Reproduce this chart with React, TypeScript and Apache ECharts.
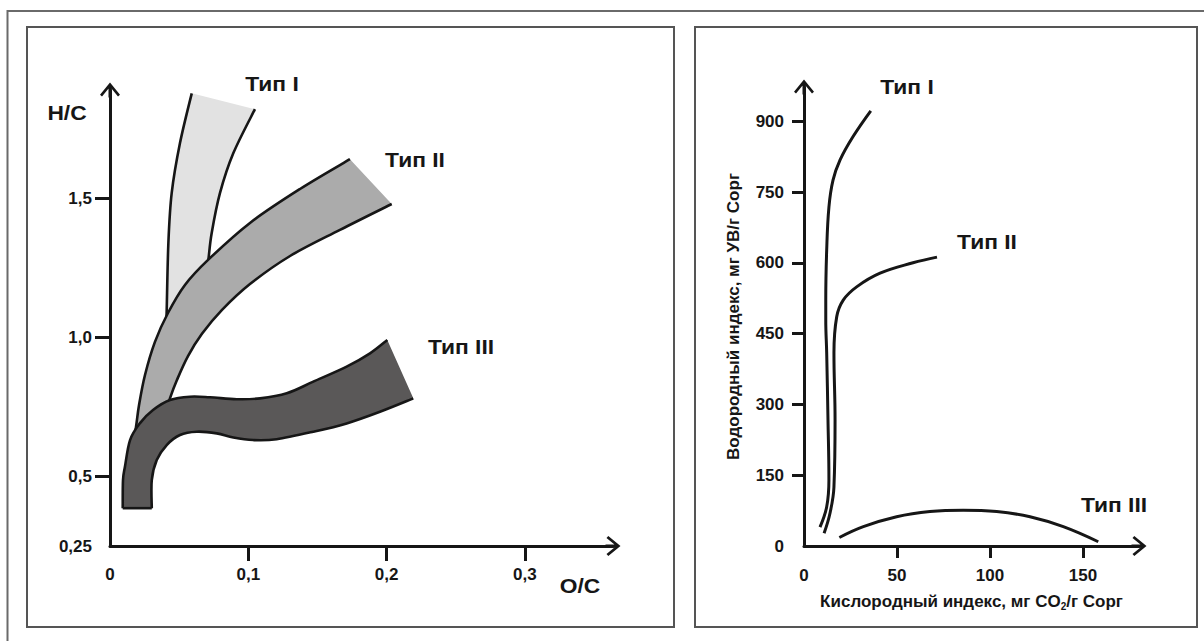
import React, { useEffect, useRef } from 'react';
import * as echarts from 'echarts';

// ---------------- Left panel: van Krevelen diagram (H/C vs O/C) ----------------
const vkXLabelValues = [0, 0.1, 0.2, 0.3];
const vkXLabelTexts = ['0', '0,1', '0,2', '0,3'];
const vkXTickValues = [0.1, 0.2, 0.3];
const vkYLabelValues = [0.25, 0.5, 1.0, 1.5];
const vkYLabelTexts = ['0,25', '0,5', '1,0', '1,5'];
const vkYTickValues = [0.5, 1.0, 1.5];

// Band outlines, points as [O/C, H/C]
const type1Left = [[0.0591, 1.878], [0.0506, 1.699], [0.0446, 1.519], [0.0422, 1.339], [0.041, 1.099], [0.0407, 1.056]];
const type1Right = [[0.1048, 1.821], [0.0892, 1.663], [0.0795, 1.519], [0.0735, 1.375], [0.0711, 1.279], [0.0694, 1.236]];

const type2Upper = [[0.1735, 1.641], [0.1374, 1.534], [0.1012, 1.412], [0.0709, 1.279], [0.0542, 1.189], [0.0419, 1.088], [0.0325, 0.984], [0.0253, 0.865], [0.021, 0.757], [0.0188, 0.678], [0.0166, 0.613]];
const type2Lower = [[0.2037, 1.48], [0.1663, 1.387], [0.1302, 1.293], [0.1012, 1.192], [0.081, 1.099], [0.0665, 1.013], [0.0564, 0.933], [0.0484, 0.847], [0.0434, 0.782], [0.0405, 0.732]];

const type3Upper = [[0.0092, 0.386], [0.0094, 0.487], [0.0108, 0.535], [0.0145, 0.631], [0.0217, 0.692], [0.0311, 0.739], [0.0434, 0.775], [0.0578, 0.787], [0.0723, 0.785], [0.0916, 0.778], [0.1085, 0.781], [0.1278, 0.799], [0.147, 0.841], [0.1711, 0.895], [0.188, 0.943], [0.2005, 0.991]];
const type3Lower = [[0.0302, 0.386], [0.0302, 0.487], [0.0338, 0.559], [0.041, 0.613], [0.0506, 0.649], [0.0627, 0.661], [0.0772, 0.655], [0.0892, 0.64], [0.1036, 0.631], [0.1205, 0.634], [0.147, 0.661], [0.1711, 0.691], [0.1952, 0.733], [0.2193, 0.781]];

// ---------------- Right panel: HI vs OI (Rock-Eval) ----------------
const hiXLabelValues = [0, 50, 100, 150];
const hiXTickValues = [50, 100, 150];
const hiYLabelValues = [0, 150, 300, 450, 600, 750, 900];
const hiYTickValues = [150, 300, 450, 600, 750, 900];

const hiType1 = [[8.6, 40], [12.2, 83], [13.4, 140], [12.9, 267], [12.2, 409], [11.7, 479], [11.7, 521], [12.2, 627], [13.4, 718], [15.6, 775], [19.4, 818], [26.3, 867], [35.9, 922]];
const hiType2 = [[10.8, 27], [14.0, 70], [16.1, 125], [16.7, 267], [16.1, 409], [17.6, 486], [21.1, 521], [28.3, 549], [40.9, 578], [58.6, 600], [71.5, 612]];
const hiType3 = [[19.0, 18], [31.9, 41], [49.8, 62], [67.7, 73], [85.6, 76], [103.6, 73], [121.5, 62], [139.4, 41], [158.2, 9]];

const FONT = "'Liberation Sans', Arial, Helvetica, sans-serif";
const INK = '#161616';
const ARROW = 'path://M10,0 L20,12.2 L18,14 L10,4.2 L2,14 L0,12.2 Z M8.5,2 L11.5,2 L11.5,15 L8.5,15 Z';

function smoothPath(pts: number[][], move: boolean): string {
  let d = (move ? 'M' : 'L') + pts[0][0] + ',' + pts[0][1];
  for (let i = 0; i < pts.length - 1; i++) {
    const p0 = pts[i - 1] || pts[i];
    const p1 = pts[i];
    const p2 = pts[i + 1];
    const p3 = pts[i + 2] || p2;
    const c1x = p1[0] + (p2[0] - p0[0]) / 6;
    const c1y = p1[1] + (p2[1] - p0[1]) / 6;
    const c2x = p2[0] - (p3[0] - p1[0]) / 6;
    const c2y = p2[1] - (p3[1] - p1[1]) / 6;
    d += ' C' + c1x + ',' + c1y + ' ' + c2x + ',' + c2y + ' ' + p2[0] + ',' + p2[1];
  }
  return d;
}

function bandSeries(name: string, sideA: number[][], sideB: number[][], fill: string, z: number, closeStart: boolean) {
  return {
    type: 'custom',
    name,
    xAxisIndex: 0,
    yAxisIndex: 0,
    z,
    silent: true,
    data: sideA.concat(sideB),
    encode: { x: 0, y: 1 },
    renderItem: (params: any, api: any) => {
      if (params.dataIndex !== 0) return null;
      const a = sideA.map((p) => api.coord(p));
      const b = sideB.map((p) => api.coord(p));
      const fillPath = smoothPath(a, true) + ' ' + smoothPath(b.slice().reverse(), false) + ' Z';
      const children: any[] = [
        { type: 'path', shape: { pathData: fillPath }, style: { fill, stroke: 'none' } },
        { type: 'path', shape: { pathData: smoothPath(a, true) }, style: { fill: 'none', stroke: INK, lineWidth: 2.6 } },
        { type: 'path', shape: { pathData: smoothPath(b, true) }, style: { fill: 'none', stroke: INK, lineWidth: 2.6 } },
      ];
      if (closeStart) {
        children.push({
          type: 'line',
          shape: { x1: a[0][0], y1: a[0][1], x2: b[0][0], y2: b[0][1] },
          style: { stroke: INK, lineWidth: 2.6 },
        });
      }
      return { type: 'group', children };
    },
  };
}

function lookup(values: number[], texts: string[]) {
  return (v: number) => {
    let best = 0;
    for (let i = 1; i < values.length; i++) {
      if (Math.abs(values[i] - v) < Math.abs(values[best] - v)) best = i;
    }
    return texts[best];
  };
}

const tickLabelStyle = { color: INK, fontSize: 17, fontWeight: 'bold', fontFamily: FONT };
const axisLineStyle = { show: true, onZero: false, symbol: ['none', ARROW], symbolSize: [20, 15], lineStyle: { color: INK, width: 3 } };

function note(text: string, x: number, y: number) {
  return {
    type: 'text',
    x,
    y,
    scaleX: 1.14,
    silent: true,
    style: {
      text,
      fill: INK,
      font: `bold 20px ${FONT}`,
      fontSize: 20,
      fontWeight: 'bold',
      fontFamily: FONT,
      align: 'center',
      verticalAlign: 'middle',
      textAlign: 'center',
      textVerticalAlign: 'middle',
    },
  };
}

export default function App() {
  const ref = useRef<HTMLDivElement>(null);
  useEffect(() => {
    if (!ref.current) return;
    const chart = echarts.init(ref.current, null, { renderer: 'svg' });
    const option: any = {
      animation: false,
      backgroundColor: '#ffffff',
      grid: [
        { left: 110, top: 90, width: 503, height: 456, outerBoundsMode: 'none', containLabel: false },
        { left: 804, top: 87, width: 335, height: 459, outerBoundsMode: 'none', containLabel: false },
      ],
      xAxis: [
        {
          gridIndex: 0,
          type: 'value',
          min: 0,
          max: 0.3637,
          axisLine: axisLineStyle,
          axisTick: { show: true, customValues: vkXTickValues, length: 15, lineStyle: { color: INK, width: 3 } },
          axisLabel: { ...tickLabelStyle, customValues: vkXLabelValues, formatter: lookup(vkXLabelValues, vkXLabelTexts), margin: 20 },
          splitLine: { show: false },
        },
        {
          gridIndex: 1,
          type: 'value',
          min: 0,
          max: 180.1,
          name: '{a|Кислородный индекс, мг CO}{s|2}{a|/г Сорг}',
          nameLocation: 'middle',
          nameGap: 45,
          nameTextStyle: {
            rich: {
              a: { fontSize: 17, fontWeight: 'bold', fontFamily: FONT, color: INK, lineHeight: 20 },
              s: { fontSize: 10, fontWeight: 'bold', fontFamily: FONT, color: INK, lineHeight: 10, verticalAlign: 'bottom' },
            },
          },
          axisLine: axisLineStyle,
          axisTick: { show: true, customValues: hiXTickValues, length: 12, lineStyle: { color: INK, width: 3 } },
          axisLabel: { ...tickLabelStyle, customValues: hiXLabelValues, margin: 21 },
          splitLine: { show: false },
        },
      ],
      yAxis: [
        {
          gridIndex: 0,
          type: 'value',
          min: 0.25,
          max: 1.89,
          axisLine: axisLineStyle,
          axisTick: { show: true, customValues: vkYTickValues, length: 15, lineStyle: { color: INK, width: 3 } },
          axisLabel: { ...tickLabelStyle, customValues: vkYLabelValues, formatter: lookup(vkYLabelValues, vkYLabelTexts), margin: 18 },
          splitLine: { show: false },
        },
        {
          gridIndex: 1,
          type: 'value',
          min: 0,
          max: 972.5,
          name: 'Водородный индекс, мг УВ/г Сорг',
          nameLocation: 'middle',
          nameGap: 62,
          nameTextStyle: { fontSize: 17, fontWeight: 'bold', fontFamily: FONT, color: INK },
          axisLine: axisLineStyle,
          axisTick: { show: true, customValues: hiYTickValues, length: 12, lineStyle: { color: INK, width: 3 } },
          axisLabel: { ...tickLabelStyle, customValues: hiYLabelValues, margin: 20 },
          splitLine: { show: false },
        },
      ],
      series: [
        bandSeries('Тип I', type1Left, type1Right, '#e2e2e2', 3, false),
        bandSeries('Тип II', type2Upper, type2Lower, '#ababab', 4, false),
        bandSeries('Тип III', type3Upper, type3Lower, '#5a5858', 5, true),
        {
          type: 'line', name: 'HI Тип I', xAxisIndex: 1, yAxisIndex: 1, data: hiType1,
          smooth: 0.4, showSymbol: false, silent: true, lineStyle: { color: INK, width: 3 },
        },
        {
          type: 'line', name: 'HI Тип II', xAxisIndex: 1, yAxisIndex: 1, data: hiType2,
          smooth: 0.4, showSymbol: false, silent: true, lineStyle: { color: INK, width: 3 },
        },
        {
          type: 'line', name: 'HI Тип III', xAxisIndex: 1, yAxisIndex: 1, data: hiType3,
          smooth: 0.4, showSymbol: false, silent: true, lineStyle: { color: INK, width: 3 },
        },
      ],
      graphic: {
        elements: [
          { type: 'rect', silent: true, shape: { x: 7.5, y: 11, width: 1220, height: 660 }, style: { fill: 'none', stroke: '#6a6a6a', lineWidth: 2 } },
          { type: 'rect', silent: true, shape: { x: 27, y: 27, width: 647, height: 600 }, style: { fill: 'none', stroke: '#555555', lineWidth: 2 } },
          { type: 'rect', silent: true, shape: { x: 695, y: 27, width: 502, height: 600 }, style: { fill: 'none', stroke: '#555555', lineWidth: 2 } },
          note('H/C', 67, 113),
          note('O/C', 580, 586),
          note('Тип I', 272, 84),
          note('Тип II', 415, 160),
          note('Тип III', 461, 347),
          note('Тип I', 907, 87),
          note('Тип II', 987, 242),
          note('Тип III', 1114, 505),
        ],
      },
    };
    chart.setOption(option);
    return () => chart.dispose();
  }, []);
  return (
    <div
      ref={ref}
      style={{ position: 'fixed', left: 0, top: 0, width: 1204, height: 641, background: '#ffffff' }}
    />
  );
}
